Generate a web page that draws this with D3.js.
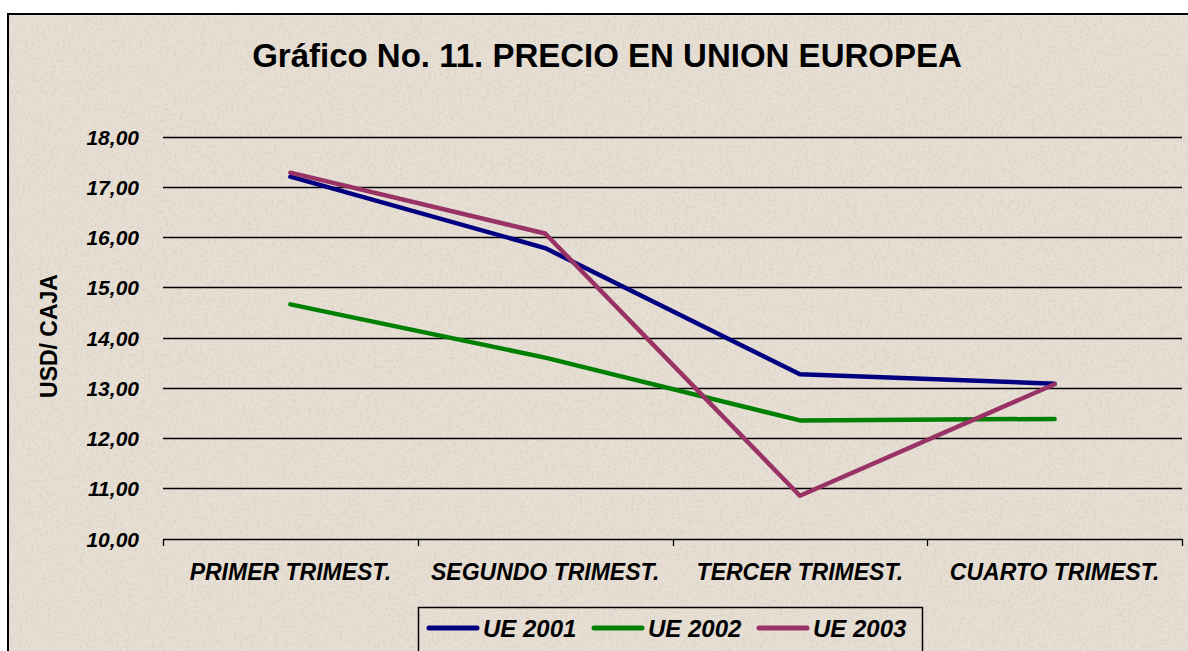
<!DOCTYPE html>
<html lang="es">
<head>
  <meta charset="utf-8">
  <title>Gráfico No. 11. PRECIO EN UNION EUROPEA</title>
  <script src="https://d3js.org/d3.v7.min.js"></script>
  <style>
    body { margin: 0; background: #fff; }
    text { font-family: "Liberation Sans", Arial, sans-serif; }
  </style>
</head>
<body>
<script>
// data
var categories = ["PRIMER TRIMEST.", "SEGUNDO TRIMEST.", "TERCER TRIMEST.", "CUARTO TRIMEST."];
var ue2001 = [17.20, 15.78, 13.27, 13.08];
var ue2002 = [14.66, 13.60, 12.35, 12.38];
var ue2003 = [17.28, 16.07, 10.85, 13.07];
var seriesNames = ["UE 2001", "UE 2002", "UE 2003"];
var seriesColors = ["#000080", "#008000", "#993366"];
var yTicks = [10, 11, 12, 13, 14, 15, 16, 17, 18];

var series = [ue2001, ue2002, ue2003].map(function(v, i) {
  return { name: seriesNames[i], color: seriesColors[i], values: v };
});

var width = 1188, height = 651;

var svg = d3.select("body").append("svg")
  .attr("width", width)
  .attr("height", height);

// speckled paper background
var defs = svg.append("defs");
var filt = defs.append("filter").attr("id", "paper")
  .attr("x", 0).attr("y", 0).attr("width", "100%").attr("height", "100%");
filt.append("feTurbulence")
  .attr("type", "fractalNoise").attr("baseFrequency", 0.35)
  .attr("numOctaves", 2).attr("seed", 4).attr("result", "noise");
filt.append("feColorMatrix").attr("in", "noise").attr("type", "matrix")
  .attr("values", "0 0 0 0 0.55  0 0 0 0 0.5  0 0 0 0 0.45  0 0 0 -2.2 1.25")
  .attr("result", "spots");
filt.append("feComposite").attr("in", "spots").attr("in2", "SourceGraphic").attr("operator", "in");

svg.append("rect")
  .attr("x", 8).attr("y", 14)
  .attr("width", width).attr("height", height)
  .attr("fill", "#e7dfd4")
  .attr("stroke", "#000").attr("stroke-width", 2);
svg.append("rect")
  .attr("x", 9).attr("y", 15)
  .attr("width", width).attr("height", height)
  .attr("fill", "#e7dfd4")
  .attr("filter", "url(#paper)")
  .attr("opacity", 0.35);

var x = d3.scaleBand().domain(categories).range([163, 1182]);
var y = d3.scaleLinear().domain([10, 18]).range([538.5, 136.5]);

// gridlines
svg.append("g")
  .selectAll("line")
  .data(yTicks)
  .join("line")
  .attr("x1", 163).attr("x2", 1182)
  .attr("y1", function(d) { return Math.round(y(d)) + 0.5; })
  .attr("y2", function(d) { return Math.round(y(d)) + 0.5; })
  .attr("stroke", "#000").attr("stroke-width", 1.3);

// y axis labels
var yAxis = d3.axisLeft(y).tickValues(yTicks).tickSize(0).tickPadding(0)
  .tickFormat(function(d) { return d3.format(".2f")(d).replace(".", ","); });
var gy = svg.append("g").attr("transform", "translate(139,0)").call(yAxis);
gy.select(".domain").remove();
gy.selectAll("text")
  .attr("font-family", "'Liberation Sans', Arial, sans-serif")
  .attr("font-size", 21).attr("font-weight", "bold").attr("font-style", "italic")
  .attr("fill", "#000").attr("dy", "0.36em");

// x axis
var xAxis = d3.axisBottom(x).tickSize(0).tickPadding(0);
var gx = svg.append("g").attr("transform", "translate(0," + (Math.round(y(10)) + 0.5) + ")").call(xAxis);
gx.select(".domain").remove();
gx.selectAll("text")
  .attr("font-family", "'Liberation Sans', Arial, sans-serif")
  .attr("font-size", 23).attr("font-weight", "bold").attr("font-style", "italic")
  .attr("fill", "#000").attr("y", 40).attr("dy", 0);

// category tick marks between bands
var tickPos = categories.map(function(c) { return x(c); }).concat([x.range()[1]]);
svg.append("g")
  .selectAll("line")
  .data(tickPos)
  .join("line")
  .attr("x1", function(d) { return Math.round(d) + 0.5; })
  .attr("x2", function(d) { return Math.round(d) + 0.5; })
  .attr("y1", Math.round(y(10))).attr("y2", Math.round(y(10)) + 7)
  .attr("stroke", "#000").attr("stroke-width", 1.3);

// lines
var line = d3.line()
  .x(function(d, i) { return x(categories[i]) + x.bandwidth() / 2; })
  .y(function(d) { return y(d); });

svg.append("g")
  .selectAll("path")
  .data(series)
  .join("path")
  .attr("d", function(d) { return line(d.values); })
  .attr("fill", "none")
  .attr("stroke", function(d) { return d.color; })
  .attr("stroke-width", 4.5)
  .attr("stroke-linecap", "round")
  .attr("stroke-linejoin", "round");

// title
svg.append("text")
  .attr("x", 607).attr("y", 67)
  .attr("text-anchor", "middle")
  .attr("font-size", 33).attr("font-weight", "bold")
  .text("Gráfico No. 11. PRECIO EN UNION EUROPEA");

// y axis title
svg.append("text")
  .attr("transform", "translate(57,336) rotate(-90)")
  .attr("text-anchor", "middle")
  .attr("font-size", 23).attr("font-weight", "bold")
  .text("USD/ CAJA");

// legend
var legend = svg.append("g").attr("transform", "translate(418,607)");
legend.append("rect")
  .attr("x", 0.5).attr("y", 0.5)
  .attr("width", 504).attr("height", 50)
  .attr("fill", "none").attr("stroke", "#000").attr("stroke-width", 1.5);
var item = legend.selectAll(".item")
  .data(series)
  .join("g")
  .attr("class", "item")
  .attr("transform", function(d, i) { return "translate(" + (9 + i * 165) + ",21)"; });
item.append("line")
  .attr("x1", 2).attr("x2", 50)
  .attr("stroke", function(d) { return d.color; })
  .attr("stroke-width", 5).attr("stroke-linecap", "round");
item.append("text")
  .attr("x", 56).attr("y", 9)
  .attr("font-size", 24).attr("font-weight", "bold").attr("font-style", "italic")
  .text(function(d) { return d.name; });
</script>
</body>
</html>
